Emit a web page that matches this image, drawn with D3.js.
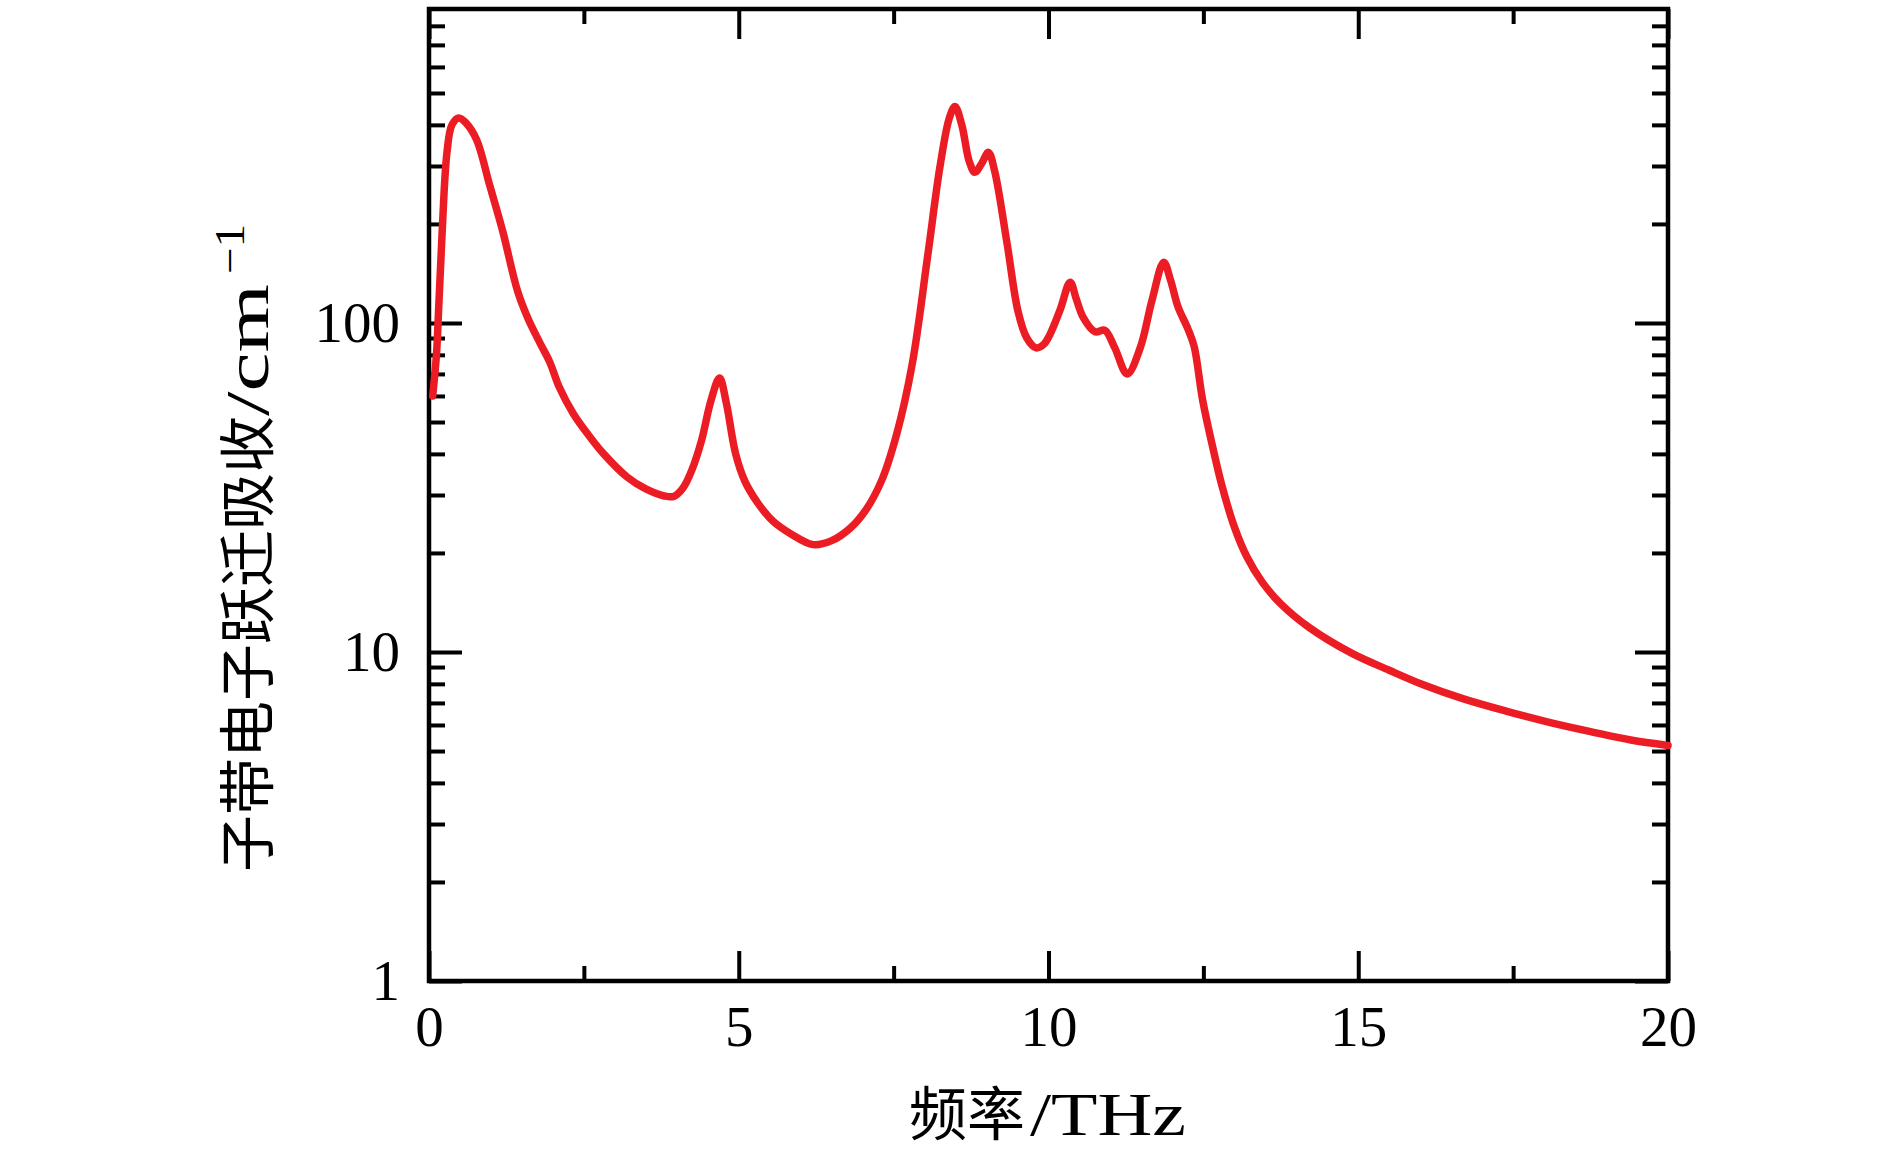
<!DOCTYPE html>
<html>
<head>
<meta charset="utf-8">
<script src="https://cdn.jsdelivr.net/npm/d3@7"></script>
<style>
html,body{margin:0;padding:0;background:#fff;}
svg{display:block;}
</style>
</head>
<body>
<svg id="chart" width="1890" height="1158"></svg>
<script>
// ---- data ----
const freq = [0.06, 0.12, 0.16, 0.21, 0.29, 0.37, 0.48, 0.6, 0.77, 0.98, 1.19, 1.43, 1.6, 1.79, 1.95, 2.1, 2.33, 2.6, 2.82, 3.2, 3.5, 3.8, 3.95, 4.1, 4.25, 4.4, 4.55, 4.69, 4.8, 4.95, 5.1, 5.3, 5.55, 5.85, 6.2, 6.5, 6.8, 7.05, 7.3, 7.55, 7.8, 8.05, 8.25, 8.4, 8.49, 8.6, 8.72, 8.81, 8.92, 9.03, 9.13, 9.33, 9.51, 9.65, 9.8, 9.92, 10.02, 10.19, 10.35, 10.45, 10.56, 10.75, 10.91, 11.07, 11.27, 11.48, 11.67, 11.86, 11.97, 12.09, 12.25, 12.35, 12.49, 12.65, 12.8, 13.0, 13.2, 13.45, 13.75, 14.2, 14.9, 15.5, 16.05, 16.7, 17.4, 18.1, 18.8, 19.4, 20];
const absorption = [60, 80, 115, 185, 330, 400, 420, 405, 360, 262, 190, 125, 103, 87, 76, 64, 53, 45, 40, 34, 31.3, 29.8, 29.7, 31.5, 36, 44, 58, 68, 57, 40, 33, 28.5, 25, 22.8, 21.2, 21.8, 23.8, 27, 33, 46, 75, 160, 300, 420, 455, 400, 310, 287, 305, 330, 290, 175, 108, 90, 84, 86, 92, 110, 133, 118, 104, 94, 95, 84, 70, 84, 117, 153, 135, 112, 96, 85, 58, 42, 32, 24, 19.5, 16.3, 14, 11.9, 9.9, 8.8, 7.95, 7.2, 6.6, 6.1, 5.7, 5.4, 5.2];

const xMajorTicks = [0, 5, 10, 15, 20];
const xMinorTicks = [2.5, 7.5, 12.5, 17.5];
const xTickLabels = ["0", "5", "10", "15", "20"];
const yMajorTicks = [1, 10, 100];
const yTickLabels = ["1", "10", "100"];
const yMinorTicks = [2, 3, 4, 5, 6, 7, 8, 9, 20, 30, 40, 50, 60, 70, 80, 90, 200, 300, 400, 500, 600, 700, 800];
const xDomain = [0, 20];
const yDomain = [1, 900];

// ---- layout ----
const L = 429, R = 1668, T = 9, B = 981;
const svg = d3.select("#chart");
const x = d3.scaleLinear().domain(xDomain).range([L, R]);
const y = d3.scaleLog().domain(yDomain).range([B, T]);

const serif = "'Liberation Serif', 'DejaVu Serif', serif";
const cjk = "'Noto Sans CJK SC', 'Noto Sans CJK JP', sans-serif";

function styleAxis(g) {
  g.select(".domain").remove();
  g.selectAll(".tick line").attr("stroke", "#000").attr("stroke-width", 4);
  g.selectAll(".tick text").attr("fill", "#000").attr("font-family", serif).attr("font-size", 57);
}

// bottom
svg.append("g").attr("transform", `translate(0,${B})`)
  .call(d3.axisBottom(x).tickValues(xMajorTicks).tickSize(-30).tickPadding(25)
    .tickFormat((d, i) => xTickLabels[i])).call(styleAxis);
svg.append("g").attr("transform", `translate(0,${B})`)
  .call(d3.axisBottom(x).tickValues(xMinorTicks).tickSize(-15).tickFormat("")).call(styleAxis);
// top
svg.append("g").attr("transform", `translate(0,${T})`)
  .call(d3.axisTop(x).tickValues(xMajorTicks).tickSize(-30).tickFormat("")).call(styleAxis);
svg.append("g").attr("transform", `translate(0,${T})`)
  .call(d3.axisTop(x).tickValues(xMinorTicks).tickSize(-15).tickFormat("")).call(styleAxis);
// left
svg.append("g").attr("transform", `translate(${L},0)`)
  .call(d3.axisLeft(y).tickValues(yMajorTicks).tickSize(-33).tickPadding(29)
    .tickFormat((d, i) => yTickLabels[i])).call(styleAxis);
svg.append("g").attr("transform", `translate(${L},0)`)
  .call(d3.axisLeft(y).tickValues(yMinorTicks).tickSize(-16).tickFormat("")).call(styleAxis);
// right
svg.append("g").attr("transform", `translate(${R},0)`)
  .call(d3.axisRight(y).tickValues(yMajorTicks).tickSize(-33).tickFormat("")).call(styleAxis);
svg.append("g").attr("transform", `translate(${R},0)`)
  .call(d3.axisRight(y).tickValues(yMinorTicks).tickSize(-16).tickFormat("")).call(styleAxis);

// frame
svg.append("rect").attr("x", L).attr("y", T).attr("width", R - L).attr("height", B - T)
  .attr("fill", "none").attr("stroke", "#000").attr("stroke-width", 4.5);

// curve
const data = freq.map((f, i) => ({ f, v: absorption[i] }));
const line = d3.line().x(d => x(d.f)).y(d => y(d.v)).curve(d3.curveCatmullRom.alpha(0.5));
svg.append("path").datum(data).attr("d", line)
  .attr("fill", "none").attr("stroke", "#ec1c24").attr("stroke-width", 7.5)
  .attr("stroke-linejoin", "round").attr("stroke-linecap", "round");

// x label
const xl = svg.append("g");
xl.append("text").attr("x", 909).attr("y", 1135).attr("font-family", cjk).attr("font-size", 58)
  .attr("fill", "#000").text("频率");
xl.append("text").attr("x", 1030).attr("y", 1135).attr("font-family", serif).attr("font-size", 62)
  .attr("fill", "#000").text("/THz").attr("textLength", 156).attr("lengthAdjust", "spacingAndGlyphs");

// y label
const yl = svg.append("g").attr("transform", "translate(268,872) rotate(-90)");
yl.append("text").attr("x", 0).attr("y", 0).attr("font-family", cjk).attr("font-size", 57)
  .attr("fill", "#000").text("子带电子跃迁吸收");
yl.append("text").attr("x", 456).attr("y", 0).attr("font-family", serif).attr("font-size", 62)
  .attr("fill", "#000").text("/cm").attr("textLength", 132).attr("lengthAdjust", "spacingAndGlyphs");
yl.append("text").attr("x", 598).attr("y", -24).attr("font-family", serif).attr("font-size", 42)
  .attr("fill", "#000").text("−1").attr("textLength", 50).attr("lengthAdjust", "spacingAndGlyphs");
</script>
</body>
</html>
